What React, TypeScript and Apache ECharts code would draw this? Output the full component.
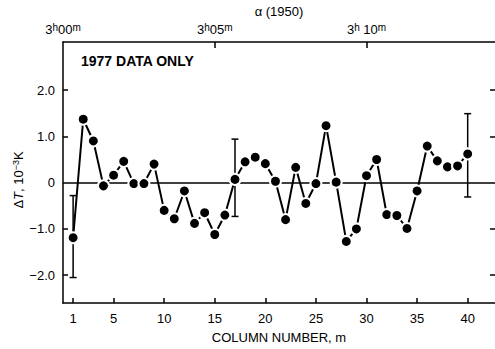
import React, { useEffect, useRef } from "react";
import * as echarts from "echarts";

const columns = [1, 2, 3, 4, 5, 6, 7, 8, 9, 10, 11, 12, 13, 14, 15, 16, 17, 18, 19, 20, 21, 22, 23, 24, 25, 26, 27, 28, 29, 30, 31, 32, 33, 34, 35, 36, 37, 38, 39, 40];
const deltaT = [-1.19, 1.37, 0.9, -0.07, 0.16, 0.46, -0.02, -0.02, 0.4, -0.6, -0.78, -0.18, -0.88, -0.65, -1.12, -0.7, 0.07, 0.45, 0.55, 0.41, 0.03, -0.8, 0.33, -0.45, -0.02, 1.23, 0.01, -1.27, -1.0, 0.15, 0.5, -0.69, -0.71, -0.99, -0.18, 0.79, 0.47, 0.34, 0.36, 0.62];
// [column, low, high]
const errorBars = [
  [1, -2.05, -0.28],
  [17, -0.73, 0.94],
  [40, -0.31, 1.49],
];
const bottomTicks = [1, 5, 10, 15, 20, 25, 30, 35, 40];
const yTicks = [-2, -1, 0, 1, 2];
const yTickLabels = ["\u22122.0", "\u22121.0", "0", "1.0", "2.0"];
const raTickCols = [0, 15, 30];
const raTickLabels = ["{n|3}{s|h}{n|00}{s|m}", "{n|3}{s|h}{n|05}{s|m}", "{n|3}{s|h}{n| 10}{s|m}"];

const FONT = "'Liberation Sans', Arial, Helvetica, sans-serif";

export default function App() {
  const ref = useRef<HTMLDivElement>(null);
  useEffect(() => {
    if (!ref.current) return;
    const chart = echarts.init(ref.current, null, { renderer: "svg" });
    const axisLine = { show: true, onZero: false, lineStyle: { color: "#000", width: 1.5 } };
    const tickStyle = { color: "#000", width: 1.5 };
    const option: any = {
      animation: false,
      backgroundColor: "#fff",
      textStyle: { fontFamily: FONT, color: "#000" },
      grid: { left: 63, top: 40, width: 432, height: 268 },
      graphic: [
        {
          type: "text",
          left: 81,
          top: 54,
          style: { text: "1977 DATA ONLY", font: `bold 14px ${FONT}`, fill: "#000" },
        },
        {
          type: "text",
          x: 18,
          y: 180,
          rotation: Math.PI / 2,
          style: {
            text: "{a|\u0394}{i|T}{a|, 10}{s|\u22123}{a|K}",
            align: "center",
            verticalAlign: "middle",
            fill: "#000",
            rich: {
              a: { fontSize: 13, fill: "#000", fontFamily: FONT, verticalAlign: "bottom" },
              i: { fontSize: 13, fill: "#000", fontFamily: FONT, fontStyle: "italic", verticalAlign: "bottom" },
              s: { fontSize: 9, fill: "#000", fontFamily: FONT, verticalAlign: "top" },
            },
          },
        },
      ],
      xAxis: [
        {
          type: "value",
          position: "bottom",
          min: 0,
          max: 42.7,
          axisLine,
          axisTick: { show: true, inside: true, length: 5, customValues: bottomTicks, lineStyle: tickStyle },
          axisLabel: { customValues: bottomTicks, fontSize: 13, color: "#000", margin: 9, fontFamily: FONT },
          splitLine: { show: false },
          name: "COLUMN NUMBER, m",
          nameLocation: "middle",
          nameGap: 28,
          nameTextStyle: { fontSize: 13, color: "#000", fontFamily: FONT },
        },
        {
          type: "value",
          position: "top",
          min: 0,
          max: 42.7,
          axisLine,
          axisTick: { show: true, inside: true, length: 6, customValues: [15, 30], lineStyle: tickStyle },
          axisLabel: {
            customValues: raTickCols,
            margin: 6,
            formatter: (v: number) => raTickLabels[raTickCols.indexOf(Math.round(v))] ?? "",
            rich: {
              n: { fontSize: 13, color: "#000", fontFamily: FONT, verticalAlign: "bottom" },
              s: { fontSize: 10, color: "#000", fontFamily: FONT, verticalAlign: "top" },
            },
          },
          splitLine: { show: false },
          name: "\u03b1 (1950)",
          nameLocation: "middle",
          nameGap: 22,
          nameTextStyle: { fontSize: 13, color: "#000", fontFamily: FONT },
        },
      ],
      yAxis: [
        {
          type: "value",
          position: "left",
          min: -2.6,
          max: 3.04,
          axisLine,
          axisTick: { show: true, inside: true, length: 5, customValues: [-2, -1, 1, 2], lineStyle: tickStyle },
          axisLabel: {
            customValues: yTicks,
            fontSize: 13,
            color: "#000",
            margin: 8,
            fontFamily: FONT,
            formatter: (v: number) => yTickLabels[yTicks.indexOf(Math.round(v))] ?? "",
          },
          splitLine: { show: false },
        },
        {
          type: "value",
          position: "right",
          min: -2.6,
          max: 3.04,
          axisLine: { show: false, onZero: false },
          axisTick: { show: true, inside: true, length: 5, customValues: [-2, -1, 1, 2], lineStyle: tickStyle },
          axisLabel: { show: false },
          splitLine: { show: false },
        },
      ],
      series: [
        {
          type: "custom",
          xAxisIndex: 0,
          yAxisIndex: 0,
          z: 1,
          data: errorBars,
          renderItem: (params: any, api: any) => {
            const x = api.value(0);
            const lo = api.coord([x, api.value(1)]);
            const hi = api.coord([x, api.value(2)]);
            const cap = 3.5;
            const style = { stroke: "#000", lineWidth: 1.5 };
            return {
              type: "group",
              children: [
                { type: "line", shape: { x1: lo[0], y1: lo[1], x2: hi[0], y2: hi[1] }, style },
                { type: "line", shape: { x1: lo[0] - cap, y1: lo[1], x2: lo[0] + cap, y2: lo[1] }, style },
                { type: "line", shape: { x1: hi[0] - cap, y1: hi[1], x2: hi[0] + cap, y2: hi[1] }, style },
              ],
            };
          },
        },
        {
          type: "line",
          xAxisIndex: 0,
          yAxisIndex: 0,
          z: 3,
          data: columns.map((c, i) => [c, deltaT[i]]),
          symbol: "circle",
          symbolSize: 11,
          showSymbol: true,
          lineStyle: { color: "#000", width: 2 },
          itemStyle: { color: "#000", borderColor: "#fff", borderWidth: 2 },
          emphasis: { disabled: true },
          markLine: {
            silent: true,
            symbol: "none",
            label: { show: false },
            lineStyle: { color: "#000", width: 1.5, type: "solid" },
            data: [{ yAxis: 0 }],
            z: 1,
          },
        },
      ],
    };
    chart.setOption(option);
    return () => chart.dispose();
  }, []);
  return (
    <div
      ref={ref}
      style={{ position: "fixed", left: 0, top: 0, width: 495, height: 349, background: "#fff" }}
    />
  );
}
